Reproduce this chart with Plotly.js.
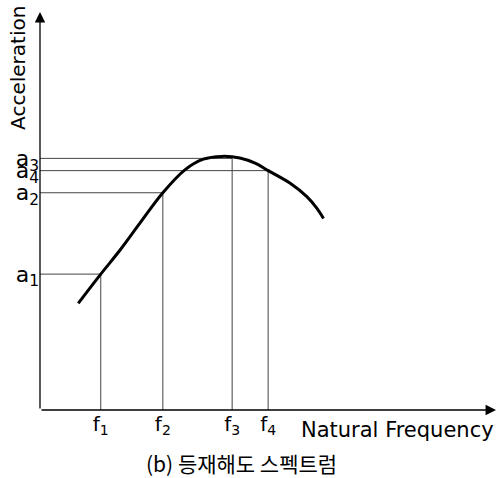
<!DOCTYPE html>
<html>
<head>
<meta charset="utf-8">
<script src="https://cdn.plot.ly/plotly-3.0.1.min.js"></script>
<style>html,body{margin:0;padding:0;background:#fff;}#chart{width:499px;height:478px;}</style>
</head>
<body>
<div id="chart"></div>
<script>
// Response curve (natural frequency vs acceleration), arbitrary units
const curveX = [0.85, 1.35, 1.78, 2.22, 2.73, 3.22, 3.63, 4.04, 4.44, 4.78, 5.07, 5.56, 5.93, 6.15, 6.30];
const curveY = [2.70, 3.44, 4.05, 4.73, 5.50, 6.08, 6.35, 6.42, 6.38, 6.25, 6.06, 5.74, 5.40, 5.11, 4.85];
// Marked points
const freqs = [1.35, 2.73, 4.27, 5.07];
const accels = [3.44, 5.50, 6.37, 6.06];
const freqLabels = ['f<sub>1</sub>', 'f<sub>2</sub>', 'f<sub>3</sub>', 'f<sub>4</sub>'];
const accelLabels = ['a<sub>1</sub>', 'a<sub>2</sub>', 'a<sub>3</sub>', 'a<sub>4</sub>'];

const traces = [];
freqs.forEach((f, i) => {
  traces.push({x: [0, f, f], y: [accels[i], accels[i], 0], mode: 'lines',
    line: {color: '#444', width: 1}, hoverinfo: 'skip', showlegend: false});
});
traces.push({x: curveX, y: curveY, mode: 'lines', line: {color: '#000', width: 3, shape: 'spline', smoothing: 1},
  showlegend: false});

const font = 'DejaVu Sans, sans-serif';
const layout = {
  width: 499, height: 478,
  margin: {l: 40, r: 9, t: 15, b: 68},
  paper_bgcolor: '#fff', plot_bgcolor: '#fff',
  showlegend: false,
  xaxis: {range: [0, 10], showgrid: false, zeroline: false, showline: false,
    tickmode: 'array', tickvals: freqs, ticktext: freqLabels, ticks: '', ticklen: 0,
    tickfont: {family: font, size: 20, color: '#000'}, fixedrange: true},
  yaxis: {range: [0, 10], showgrid: false, zeroline: false, showline: false,
    tickmode: 'array', tickvals: accels, ticktext: accelLabels, ticks: '', ticklen: 0,
    tickfont: {family: font, size: 22, color: '#000'}, fixedrange: true},
  annotations: [
    {xref: 'paper', yref: 'paper', x: 0, y: 1.0076, ax: 0, ay: 398, axref: 'pixel', ayref: 'pixel',
      showarrow: true, arrowhead: 2, arrowsize: 1.6, arrowwidth: 1.3, arrowcolor: '#000', text: ''},
    {xref: 'paper', yref: 'paper', x: 1.0133, y: 0, ax: -456, ay: 0,
      showarrow: true, arrowhead: 2, arrowsize: 1.6, arrowwidth: 1.3, arrowcolor: '#000', text: ''},
    {xref: 'paper', yref: 'paper', x: 1.0133, y: -0.05, xanchor: 'right', yanchor: 'middle',
      showarrow: false, text: 'Natural Frequency', font: {family: font, size: 21, color: '#000'}},
    {xref: 'paper', yref: 'paper', x: -0.049, y: 0.866, xanchor: 'center', yanchor: 'middle', textangle: -90,
      showarrow: false, text: 'Acceleration', font: {family: font, size: 20, color: '#000'}},
    {xref: 'paper', yref: 'paper', x: 0.447, y: -0.134, xanchor: 'center', yanchor: 'middle',
      showarrow: false, text: '(b) 등재해도 스펙트럼', font: {family: 'Noto Sans CJK KR, sans-serif', size: 21, color: '#000'}}
  ]
};
Plotly.newPlot('chart', traces, layout, {displayModeBar: false, staticPlot: true});
</script>
</body>
</html>
